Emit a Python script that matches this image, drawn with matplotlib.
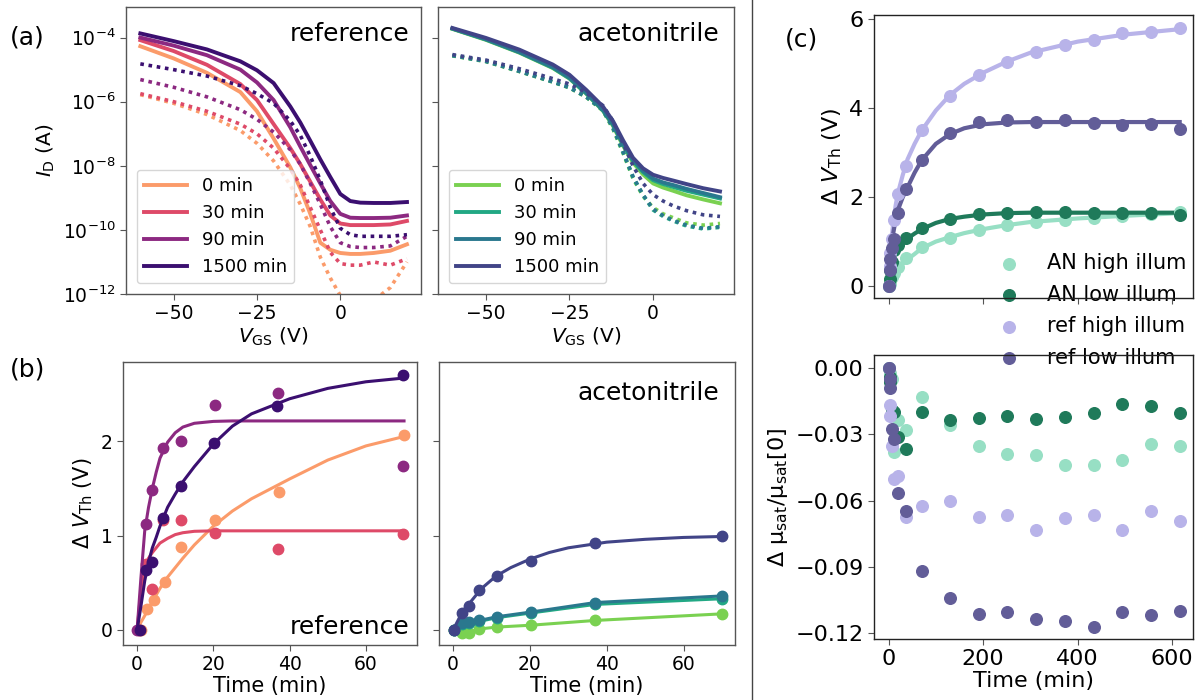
import numpy as np
import matplotlib
matplotlib.use("Agg")
import matplotlib.pyplot as plt
from matplotlib.lines import Line2D

# ---------------- panel (a): transfer curves, log10(I_D) ----------------
VGS = [-60, -50, -40, -30, -25, -20, -15, -12, -9, -6, -3, 0, 3, 6, 10, 15, 20]
REF_LABELS = ["0 min", "30 min", "90 min", "1500 min"]
REF_COLORS = ["#fb9b6a", "#de4a68", "#8c2981", "#3b0f70"]
AN_COLORS = ["#7ad151", "#22a884", "#2a788e", "#414487"]

ref_solid_0 = [-4.27, -4.65, -5.1, -5.7, -6.3, -7.15, -8.05, -8.7, -9.5, -10.4, -10.62, -10.72, -10.75, -10.75, -10.72, -10.65, -10.45]
ref_solid_30 = [-4.08, -4.42, -4.85, -5.45, -5.95, -6.7, -7.45, -7.95, -8.5, -9.05, -9.55, -9.8, -9.85, -9.85, -9.85, -9.83, -9.72]
ref_solid_90 = [-4.0, -4.25, -4.55, -5.0, -5.4, -5.95, -6.8, -7.4, -7.98, -8.55, -9.1, -9.5, -9.62, -9.63, -9.63, -9.62, -9.55]
ref_solid_1500 = [-3.87, -4.11, -4.37, -4.74, -5.02, -5.42, -6.15, -6.65, -7.22, -7.8, -8.35, -8.88, -9.1, -9.15, -9.16, -9.16, -9.13]
ref_dot_0 = [-5.78, -6.05, -6.4, -6.9, -7.3, -7.85, -8.6, -9.2, -9.9, -10.85, -11.5, -12.05, -12.3, -12.3, -12.2, -11.8, -11.0]
ref_dot_30 = [-5.75, -6.0, -6.3, -6.7, -7.0, -7.45, -8.1, -8.6, -9.3, -10.0, -10.7, -11.05, -11.1, -11.1, -11.0, -11.1, -10.9]
ref_dot_90 = [-5.31, -5.55, -5.85, -6.25, -6.55, -6.95, -7.5, -7.95, -8.55, -9.2, -9.9, -10.4, -10.52, -10.55, -10.55, -10.5, -10.2]
ref_dot_1500 = [-4.82, -5.0, -5.2, -5.5, -5.75, -6.05, -6.6, -7.05, -7.7, -8.45, -9.3, -9.95, -10.15, -10.2, -10.2, -10.2, -10.15]

an_solid_0 = [-3.73, -4.07, -4.47, -4.95, -5.28, -5.75, -6.28, -6.75, -7.37, -7.9, -8.27, -8.55, -8.68, -8.78, -8.92, -9.05, -9.17]
an_solid_30 = [-3.72, -4.06, -4.46, -4.94, -5.27, -5.74, -6.27, -6.72, -7.33, -7.85, -8.2, -8.45, -8.57, -8.66, -8.78, -8.9, -9.02]
an_solid_90 = [-3.72, -4.05, -4.45, -4.92, -5.25, -5.72, -6.25, -6.7, -7.3, -7.82, -8.16, -8.4, -8.52, -8.6, -8.72, -8.85, -8.98]
an_solid_1500 = [-3.70, -4.01, -4.375, -4.84, -5.16, -5.63, -6.15, -6.6, -7.2, -7.75, -8.08, -8.28, -8.38, -8.46, -8.57, -8.70, -8.80]
an_dot_0 = [-4.57, -4.75, -5.06, -5.39, -5.57, -5.86, -6.28, -6.85, -7.6, -8.4, -8.95, -9.3, -9.5, -9.62, -9.78, -9.85, -9.8]
an_dot_30 = [-4.56, -4.74, -5.05, -5.38, -5.56, -5.85, -6.27, -6.83, -7.58, -8.37, -8.92, -9.38, -9.58, -9.72, -9.88, -9.97, -9.92]
an_dot_90 = [-4.56, -4.74, -5.05, -5.38, -5.56, -5.85, -6.26, -6.8, -7.55, -8.33, -8.9, -9.35, -9.55, -9.7, -9.85, -9.95, -9.9]
an_dot_1500 = [-4.53, -4.70, -4.97, -5.28, -5.45, -5.72, -6.12, -6.6, -7.3, -8.0, -8.55, -8.9, -9.1, -9.25, -9.4, -9.53, -9.58]

# ---------------- panel (b): threshold shift vs time ----------------
t_ref_0 = [1.0, 2.6, 4.4, 7.2, 11.6, 20.5, 37.2, 70]
dv_ref_0 = [0.0, 0.22, 0.32, 0.51, 0.88, 1.17, 1.46, 2.07]
t_ref_30 = [0.5, 2.3, 4.0, 6.9, 11.6, 20.5, 37.0, 69.8]
dv_ref_30 = [0.0, 0.70, 0.43, 1.16, 1.16, 1.03, 0.86, 1.02]
t_ref_90 = [0.0, 2.3, 4.0, 6.8, 11.6, 20.4, 37.0, 69.8]
dv_ref_90 = [0.0, 1.12, 1.48, 1.93, 2.00, 2.38, 2.51, 1.74]
t_ref_1500 = [0.7, 2.3, 4.0, 6.8, 11.5, 20.2, 36.8, 69.8]
dv_ref_1500 = [0.0, 0.63, 0.72, 1.19, 1.53, 1.98, 2.37, 2.70]

t_fit_b = [0, 1, 2, 3, 4, 5, 6, 8, 10, 12, 15, 20, 25, 30, 40, 50, 60, 70]
fit_ref_0 = [0, 0.08, 0.15, 0.23, 0.3, 0.37, 0.44, 0.56, 0.66, 0.76, 0.9, 1.1, 1.26, 1.39, 1.6, 1.8, 1.95, 2.05]
fit_ref_30 = [0, 0.42, 0.66, 0.76, 0.82, 0.87, 0.92, 0.97, 1.01, 1.03, 1.045, 1.05, 1.05, 1.05, 1.05, 1.05, 1.05, 1.05]
fit_ref_90 = [0, 0.55, 1.05, 1.3, 1.5, 1.67, 1.82, 1.99, 2.09, 2.15, 2.19, 2.21, 2.215, 2.215, 2.215, 2.215, 2.215, 2.215]
fit_ref_1500 = [0, 0.25, 0.52, 0.72, 0.87, 0.98, 1.1, 1.3, 1.44, 1.57, 1.73, 1.97, 2.16, 2.29, 2.45, 2.56, 2.63, 2.67]

t_an = [0.3, 2.3, 4.0, 6.8, 11.5, 20.4, 37.0, 70.0]
dv_an_0 = [0.0, -0.03, -0.03, 0.01, 0.03, 0.05, 0.10, 0.17]
dv_an_30 = [0.0, 0.06, 0.07, 0.09, 0.13, 0.18, 0.27, 0.33]
dv_an_90 = [0.0, 0.07, 0.08, 0.10, 0.14, 0.19, 0.29, 0.36]
dv_an_1500 = [0.0, 0.18, 0.25, 0.42, 0.57, 0.73, 0.92, 0.99]
fit_an_1500 = [0, 0.08, 0.16, 0.22, 0.27, 0.32, 0.37, 0.46, 0.53, 0.59, 0.66, 0.75, 0.82, 0.87, 0.93, 0.96, 0.98, 0.99]

# ---------------- panel (c): long illumination ----------------
C_LABELS = ["AN high illum", "AN low illum", "ref high illum", "ref low illum"]
C_COLORS = ["#97dfc4", "#1f7a5a", "#b8b3e9", "#625d98"]
t_c = [0, 2.3, 4, 7, 11.5, 20.5, 37, 70, 130, 191, 251, 312, 373, 434, 494, 555, 616]
dvth_an_high = [0, 0.05, 0.12, 0.2, 0.3, 0.43, 0.62, 0.87, 1.09, 1.27, 1.37, 1.45, 1.48, 1.52, 1.57, 1.61, 1.67]
dvth_an_low = [0, 0.15, 0.35, 0.55, 0.8, 0.92, 1.07, 1.30, 1.51, 1.63, 1.65, 1.66, 1.66, 1.65, 1.64, 1.64, 1.60]
dvth_ref_high = [0, 0.45, 0.75, 1.05, 1.48, 2.07, 2.7, 3.5, 4.27, 4.74, 5.04, 5.27, 5.43, 5.54, 5.69, 5.72, 5.81]
dvth_ref_low = [0, 0.35, 0.6, 0.85, 1.05, 1.65, 2.18, 2.83, 3.45, 3.68, 3.73, 3.69, 3.73, 3.66, 3.62, 3.64, 3.54]

t_fit_c = [0, 2, 5, 10, 15, 20, 30, 40, 55, 70, 100, 130, 160, 200, 250, 300, 400, 500, 616]
fit_an_high = [0, 0.04, 0.1, 0.2, 0.3, 0.38, 0.5, 0.6, 0.72, 0.85, 1.0, 1.1, 1.19, 1.28, 1.37, 1.44, 1.52, 1.58, 1.64]
fit_an_low = [0, 0.2, 0.42, 0.65, 0.8, 0.9, 1.0, 1.07, 1.18, 1.28, 1.42, 1.51, 1.56, 1.61, 1.64, 1.65, 1.65, 1.65, 1.65]
fit_ref_high = [0, 0.45, 0.9, 1.45, 1.82, 2.1, 2.5, 2.85, 3.2, 3.5, 3.95, 4.3, 4.55, 4.8, 5.05, 5.25, 5.5, 5.66, 5.78]
fit_ref_low = [0, 0.4, 0.8, 1.2, 1.5, 1.72, 2.0, 2.22, 2.55, 2.83, 3.2, 3.42, 3.55, 3.64, 3.68, 3.69, 3.69, 3.69, 3.69]

dmu_an_high = [0, -0.002, -0.004, -0.005, -0.038, -0.0236, -0.028, -0.013, -0.0259, -0.0353, -0.0387, -0.0392, -0.044, -0.0437, -0.0415, -0.0342, -0.0354]
dmu_an_low = [0, -0.004, -0.006, -0.019, -0.0198, -0.031, -0.0365, -0.0198, -0.0236, -0.0225, -0.0216, -0.0229, -0.0221, -0.0203, -0.0163, -0.0172, -0.0203]
dmu_ref_high = [0, -0.0165, -0.0218, -0.035, -0.050, -0.049, -0.0675, -0.0622, -0.0602, -0.0675, -0.0667, -0.0735, -0.068, -0.0664, -0.0732, -0.0645, -0.069]
dmu_ref_low = [0, -0.005, -0.0089, -0.0274, -0.0319, -0.0564, -0.0649, -0.0917, -0.1043, -0.1115, -0.1106, -0.1135, -0.1144, -0.1171, -0.1106, -0.1118, -0.1098]

SPINE = "#555555"


def style(ax, size=13.5):
    for s in ax.spines.values():
        s.set_color(SPINE)
        s.set_linewidth(1.0)
    ax.tick_params(labelsize=size, length=4, width=0.8, color=SPINE)


def transfer(ax, solids, dots, colors):
    vg = np.array(VGS)
    for sol, dot, c, lab in zip(solids, dots, colors, REF_LABELS):
        ax.plot(vg, 10.0 ** np.array(dot), ls=(0, (1, 1.3)), lw=2.6, color=c)
        ax.plot(vg, 10.0 ** np.array(sol), lw=2.8, color=c, label=lab)
    ax.set_yscale("log")
    ax.set_ylim(1e-12, 9e-4)
    ax.set_xlim(-64.3, 24.2)
    ax.set_yticks([1e-12, 1e-10, 1e-8, 1e-6, 1e-4])
    ax.minorticks_off()
    ax.set_xticks([-50, -25, 0])
    ax.set_xlabel(r"$V_{\mathrm{GS}}$ (V)", fontsize=14.5, labelpad=2)
    ax.legend(loc="lower left", fontsize=13, handlelength=2.4, labelspacing=0.5,
              borderaxespad=0.6)
    style(ax)


fig = plt.figure(figsize=(12, 7), dpi=100)

a1 = fig.add_axes([0.105, 0.58, 0.2458, 0.41])
a2 = fig.add_axes([0.365, 0.58, 0.2467, 0.41])
transfer(a1, [ref_solid_0, ref_solid_30, ref_solid_90, ref_solid_1500],
         [ref_dot_0, ref_dot_30, ref_dot_90, ref_dot_1500], REF_COLORS)
transfer(a2, [an_solid_0, an_solid_30, an_solid_90, an_solid_1500],
         [an_dot_0, an_dot_30, an_dot_90, an_dot_1500], AN_COLORS)
a2.set_yticklabels([])
a1.set_ylabel(r"$I_{\mathrm{D}}$ (A)", fontsize=14.5)
a1.text(0.96, 0.905, "reference", transform=a1.transAxes, ha="right", va="center", fontsize=18)
a2.text(0.95, 0.905, "acetonitrile", transform=a2.transAxes, ha="right", va="center", fontsize=18)

b1 = fig.add_axes([0.1025, 0.0786, 0.245, 0.4043])
b2 = fig.add_axes([0.3658, 0.0786, 0.2467, 0.4043])
ref_pts = [(t_ref_0, dv_ref_0), (t_ref_30, dv_ref_30), (t_ref_90, dv_ref_90), (t_ref_1500, dv_ref_1500)]
ref_fits = [fit_ref_0, fit_ref_30, fit_ref_90, fit_ref_1500]
for (tt, vv), ff, c in zip(ref_pts, ref_fits, REF_COLORS):
    b1.plot(t_fit_b, ff, color=c, lw=2.2)
    b1.plot(tt, vv, "o", color=c, ms=7.5)
for vv, c in zip([dv_an_0, dv_an_30, dv_an_90], AN_COLORS[:3]):
    b2.plot(t_an, vv, "-o", color=c, lw=2.2, ms=7.5)
b2.plot(t_fit_b, fit_an_1500, color=AN_COLORS[3], lw=2.2)
b2.plot(t_an, dv_an_1500, "o", color=AN_COLORS[3], ms=7.5)
for ax in (b1, b2):
    ax.set_xlim(-3.7, 73.4)
    ax.set_ylim(-0.16, 2.84)
    ax.set_xticks([0, 20, 40, 60])
    ax.set_yticks([0, 1, 2])
    ax.set_xlabel("Time (min)", fontsize=15, labelpad=1)
    style(ax)
b2.set_yticklabels([])
b1.set_ylabel(r"$\Delta\ V_{\mathrm{Th}}$ (V)", fontsize=15)
b1.text(0.973, 0.064, "reference", transform=b1.transAxes, ha="right", va="center", fontsize=18)
b2.text(0.946, 0.89, "acetonitrile", transform=b2.transAxes, ha="right", va="center", fontsize=18)

c1 = fig.add_axes([0.7283, 0.5743, 0.2658, 0.4043])
c2 = fig.add_axes([0.7283, 0.0871, 0.2658, 0.4057], sharex=c1)
handles = []
for dv, ff, dm, c, lab in zip([dvth_an_high, dvth_an_low, dvth_ref_high, dvth_ref_low],
                              [fit_an_high, fit_an_low, fit_ref_high, fit_ref_low],
                              [dmu_an_high, dmu_an_low, dmu_ref_high, dmu_ref_low],
                              C_COLORS, C_LABELS):
    c1.plot(t_fit_c, ff, color=c, lw=3)
    h = c1.scatter(t_c, dv, s=70, color=c, label=lab, zorder=3)
    c2.scatter(t_c, dm, s=70, color=c, zorder=3)
    handles.append(h)
c1.set_xlim(-31, 644)
c1.set_ylim(-0.27, 6.1)
c1.set_yticks([0, 2, 4, 6])
c1.set_xticks([0, 200, 400, 600])
c1.tick_params(labelbottom=False)
c2.set_ylim(-0.1227, 0.006)
c2.set_yticks([-0.12, -0.09, -0.06, -0.03, 0.0])
c1.set_ylabel(r"$\Delta\ V_{\mathrm{Th}}$ (V)", fontsize=16)
c2.set_ylabel(r"$\Delta\ \mathregular{\mu_{sat}/\mu_{sat}[0]}$", fontsize=16)
c2.set_xlabel("Time (min)", fontsize=16, labelpad=1)
for ax in (c1, c2):
    style(ax, 16)
    for s in ax.spines.values():
        s.set_color("#222222")
    ax.patch.set_alpha(0)

leg = fig.legend(handles, C_LABELS, loc="upper left", bbox_to_anchor=(980 / 1200, 1 - 245 / 700),
                 frameon=False, fontsize=15, labelspacing=0.55, handletextpad=0.8,
                 borderaxespad=0, borderpad=0.4)
leg.set_zorder(-1)

fig.text(0.008, 1 - 38 / 700, "(a)", fontsize=18, va="center")
fig.text(0.008, 1 - 370 / 700, "(b)", fontsize=18, va="center")
fig.text(0.654, 1 - 40 / 700, "(c)", fontsize=18, va="center")
fig.add_artist(Line2D([752 / 1200, 752 / 1200], [0, 1], color="#444444", lw=1.0))

fig.savefig("out.png", dpi=100)
